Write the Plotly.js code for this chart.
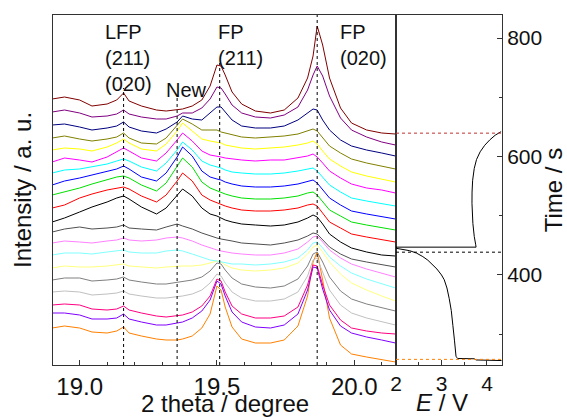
<!DOCTYPE html>
<html>
<head>
<meta charset="utf-8">
<script src="https://cdn.plot.ly/plotly-3.0.1.min.js"></script>
<style>html,body{margin:0;padding:0;background:#fff;}#chart{width:567px;height:417px;}</style>
</head>
<body>
<div id="chart"></div>
<script>
// 2 theta grid (degree)
const theta = [18.90,18.945,19.00,19.045,19.10,19.135,19.16,19.18,19.225,19.28,19.315,19.355,19.375,19.41,19.445,19.475,19.50,19.515,19.53,19.555,19.59,19.64,19.695,19.745,19.795,19.83,19.85,19.865,19.885,19.91,19.95,19.99,20.045,20.10,20.15];

// stacked XRD patterns (arbitrary units, top to bottom)
const wine = [266,268,265,259,261,265,272,264,259,255,254,255,256,259,265,279,300,299,290,273,261,254,252,255,267,287,309,339,320,287,257,242,235,232,231];
const purple = [253,255,252,248,249,251,255,251,248,246,246,249,252,252,257,266,278,277,271,260,252,248,247,250,258,275,290,299,289,269,247,235,228,223,220];
const navy = [240,241,238,235,237,239,243,238,234,232,236,243,249,246,245,252,258,258,253,245,239,237,237,239,245,252,256,255,245,235,225,219,215,212,209];
const darkYellow = [227,229,226,224,226,228,232,227,222,221,227,239,246,241,235,235,235,233,232,230,228,227,228,229,231,234,236,234,227,219,212,206,202,199,196];
const yellow = [215,217,216,214,218,222,226,222,216,214,221,234,242,234,226,224,223,222,220,219,217,216,217,218,220,222,224,221,214,206,199,193,189,186,183];
const magenta = [203,207,205,203,208,213,217,214,207,204,212,225,232,224,214,210,209,208,207,206,205,204,205,205,207,209,211,208,202,194,187,181,177,175,172];
const cyan = [192,195,196,198,201,204,206,204,198,194,202,215,223,215,204,200,198,197,195,193,192,191,191,192,194,196,197,194,188,180,173,167,164,161,159];
const blue = [180,184,187,190,193,196,199,196,188,184,192,208,218,209,194,188,186,185,183,181,179,178,178,179,181,184,185,182,175,167,160,154,151,148,146];
const green = [170,173,177,181,185,188,189,187,180,174,182,198,207,198,183,177,174,173,171,169,167,166,166,167,169,172,173,170,163,155,149,143,140,137,135];
const red = [157,160,167,171,175,177,178,176,169,163,170,184,192,184,170,165,162,160,159,157,155,154,154,155,157,160,161,159,152,143,137,131,128,125,123];
const black = [143,147,153,158,163,167,169,166,158,151,157,169,176,169,157,151,149,147,145,143,141,140,139,140,143,147,150,148,141,131,123,117,113,110,109];
const darkGray = [133,136,138,136,137,138,140,137,136,135,138,141,139,136,132,129,127,126,125,124,122,121,120,122,125,129,132,131,125,118,111,106,103,100,98];
const ltMagenta = [122,124,123,122,124,125,127,125,124,125,127,128,127,124,120,117,115,114,113,112,111,110,110,112,116,123,128,129,123,115,107,101,96,92,88];
const ltCyan = [110,112,112,111,113,114,115,113,112,112,114,115,114,111,108,105,104,103,102,101,101,100,101,103,107,115,122,123,117,108,99,92,86,81,77];
const ltYellow = [97,99,98,98,99,100,101,99,98,97,98,99,99,99,100,102,104,103,100,97,95,94,95,97,102,111,118,120,113,103,91,82,75,69,64];
const gray = [85,87,87,84,85,86,88,85,83,81,81,83,84,85,88,94,102,101,95,87,81,78,77,79,86,99,111,113,103,88,74,66,61,57,54];
const ltGray = [73,74,73,70,71,72,74,71,69,67,67,68,69,71,75,82,91,89,82,73,67,64,64,66,73,89,105,107,93,75,60,52,47,43,40];
const pink = [60,61,60,56,55,56,59,55,52,49,48,49,50,53,59,69,86,84,73,59,51,47,47,49,58,80,100,99,80,60,45,37,34,32,31];
const violet = [52,52,50,46,46,47,51,46,43,40,40,42,43,47,54,65,84,81,69,53,43,38,37,40,51,75,98,97,76,55,39,32,28,25,22];
const orange = [37,39,37,33,32,34,38,32,29,26,25,25,26,29,37,51,79,75,58,38,26,22,22,25,39,69,103,113,85,47,20,11,8,5,3];

const seriesNames = ['wine','purple','navy','darkYellow','yellow','magenta','cyan','blue','green','red','black','darkGray','ltMagenta','ltCyan','ltYellow','gray','ltGray','pink','violet','orange'];
const seriesData = [wine,purple,navy,darkYellow,yellow,magenta,cyan,blue,green,red,black,darkGray,ltMagenta,ltCyan,ltYellow,gray,ltGray,pink,violet,orange];
const seriesColors = ['#800000','#800080','#000080','#808000','#FFFF00','#FF00FF','#00FFFF','#0000FF','#00E000','#FF0000','#000000','#505050','#FF80FF','#80FFFF','#FFFF80','#808080','#C0C0C0','#FF0080','#8000FF','#FF8000'];

// reference peak positions and labels
const peakPos = [19.16, 19.355, 19.51, 19.865];
const peakLineTop = [277, 267, 302, 350];
const labelText = ['LFP<br>(211)<br>(020)', 'New', 'FP<br>(211)', 'FP<br>(020)'];
const labelX = [19.084, 19.306, 19.498, 19.941];
const labelY = [346, 288, 346, 346];

// E-t curve
const potential = [4.32,4.05,3.76,3.72,3.36,3.32,3.30,3.285,3.25,3.215,3.17,3.12,3.06,3.00,2.90,2.81,2.70,2.59,2.45,2.30,2.15,2.01,2.00,2.40,3.00,3.50,3.76,3.75,3.72,3.69,3.675,3.67,3.672,3.685,3.72,3.77,3.85,3.95,4.06,4.18,4.31];
const time = [255.5,255.5,256.5,258.5,259,262,273,290,315,340,360,378,392,400,410,417,425,431,437,441,443.5,445,447,447,447,447,447,452,465,487,505,521,540,560,580,595,608,619,628,636,642];
const markTimes = [257.5, 438.5, 639.5];
const markColors = ['#FF8000', '#000000', '#C03030'];

const FONT = 'Liberation Sans, Arial, sans-serif';
const traces = [];
for (let i = seriesData.length - 1; i >= 0; i--) {
  traces.push({x: theta, y: seriesData[i], name: seriesNames[i], mode: 'lines',
    line: {color: seriesColors[i], width: 1}, xaxis: 'x', yaxis: 'y', hoverinfo: 'skip'});
}
traces.push({x: potential, y: time, mode: 'lines', line: {color: '#000', width: 1}, xaxis: 'x2', yaxis: 'y2', hoverinfo: 'skip'});

const shapes = [];
peakPos.forEach((p, i) => shapes.push({type: 'line', xref: 'x', yref: 'y', x0: p, x1: p, y0: 0, y1: peakLineTop[i], line: {color: '#000', width: 1, dash: 'dot'}}));
markTimes.forEach((t, i) => shapes.push({type: 'line', xref: 'x2', yref: 'y2', x0: 2, x1: 4.33, y0: t, y1: t, line: {color: markColors[i], width: 1, dash: 'dot'}}));

const annotations = labelText.map((t, i) => ({text: t, x: labelX[i], y: labelY[i], xref: 'x', yref: 'y', xanchor: 'left', yanchor: 'top', align: 'left', showarrow: false, font: {family: FONT, size: 20, color: '#111'}}));
// x-axis titles
annotations.push({text: '2 theta / degree', xref: 'paper', yref: 'paper', x: 0.382, y: -0.065, xanchor: 'center', yanchor: 'top', showarrow: false, font: {family: FONT, size: 24, color: '#111'}});
annotations.push({text: '<i>E</i> / V', xref: 'paper', yref: 'paper', x: 0.866, y: -0.063, xanchor: 'center', yanchor: 'top', showarrow: false, font: {family: FONT, size: 24, color: '#111'}});

const axLine = {showline: true, linecolor: '#333', linewidth: 1, mirror: true, showgrid: false, zeroline: false, automargin: false};
const layout = {
  width: 567, height: 417,
  margin: {l: 53, r: 65, t: 15, b: 52},
  paper_bgcolor: '#fff', plot_bgcolor: '#fff', showlegend: false,
  font: {family: FONT, color: '#111'},
  xaxis: Object.assign({}, axLine, {domain: [0, 0.7639], anchor: 'y', range: [18.903, 20.152],
    tickvals: [19.0, 19.5, 20.0], ticktext: ['19.0', '19.5', '20.0'], ticks: 'inside', ticklen: 5, tickcolor: '#333',
    minor: {ticks: 'inside', ticklen: 3, dtick: 0.1, tick0: 19, tickcolor: '#333'},
    tickfont: {size: 24, family: FONT}}),
  yaxis: Object.assign({}, axLine, {domain: [0, 1], anchor: 'x', range: [0, 350], showticklabels: false, ticks: '',
    title: {text: 'Intensity / a. u.', font: {size: 24, family: FONT}, standoff: 13}}),
  xaxis2: Object.assign({}, axLine, {domain: [0.7639, 1], anchor: 'y2', range: [2, 4.33],
    tickvals: [2, 3, 4], ticks: 'inside', ticklen: 5, tickcolor: '#333',
    minor: {ticks: 'inside', ticklen: 3, dtick: 0.5, tick0: 2, tickcolor: '#333'},
    tickfont: {size: 21, family: FONT}}),
  yaxis2: Object.assign({}, axLine, {domain: [0, 1], anchor: 'x2', side: 'right', range: [248, 839],
    tickvals: [400, 600, 800], ticks: 'inside', ticklen: 5, tickcolor: '#333',
    minor: {ticks: 'inside', ticklen: 3, dtick: 100, tick0: 300, tickcolor: '#333'},
    tickfont: {size: 21, family: FONT}, title: {text: 'Time / s', font: {size: 24, family: FONT}, standoff: 4}}),
  shapes: shapes,
  annotations: annotations
};
Plotly.newPlot('chart', traces, layout, {staticPlot: true, displayModeBar: false});
</script>
</body>
</html>
